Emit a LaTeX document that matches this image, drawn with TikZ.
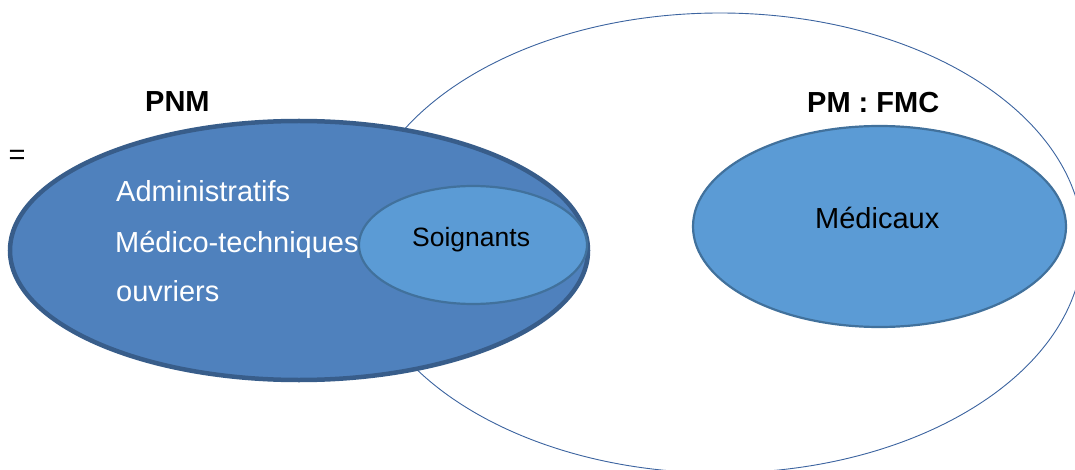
\documentclass[tikz,border=0pt]{standalone}
\usepackage{fontspec}
\setmainfont{Liberation Sans}
\usetikzlibrary{shapes.geometric}

\definecolor{pnmfill}{RGB}{79,129,189}
\definecolor{pnmline}{RGB}{56,93,138}
\definecolor{subfill}{RGB}{91,155,213}
\definecolor{subline}{RGB}{65,113,156}
\definecolor{outerline}{RGB}{60,100,160}

\begin{document}
\begin{tikzpicture}[x=1pt,y=-1pt,
  setshape/.style={ellipse,inner sep=0pt,outer sep=0pt},
  outerset/.style={setshape,draw=outerline,line width=0.9pt,fill=white},
  mainset/.style={setshape,draw=pnmline,line width=4.5pt,fill=pnmfill},
  subset/.style={setshape,draw=subline,line width=2.2pt,fill=subfill},
  label/.style={inner sep=0pt,anchor=base west,font=\fontsize{29}{35}\selectfont},
  whitelabel/.style={label,text=white},
  title/.style={label,font=\fontsize{29}{35}\selectfont\bfseries}]

\useasboundingbox (0,0) rectangle (1075,470);
\clip (0,0) rectangle (1075,470);

% outer set containing the medical staff
\node[outerset,minimum width=726pt,minimum height=460pt] (pm) at (720,243) {};

% non-medical staff
\node[mainset,minimum width=578pt,minimum height=259pt] (pnm) at (299,250.5) {};
\node[whitelabel] (admin) at (116,202) {Administratifs};
\node[whitelabel] (medtech) at (115,252) {Médico-techniques};
\node[whitelabel] (ouvr) at (116,301) {ouvriers};

% nursing staff, inside the non-medical set
\node[subset,minimum width=228pt,minimum height=118pt] (soin) at (473,245) {};
\node[label,font=\fontsize{26.5}{32}\selectfont] (soinlab) at (412,247) {Soignants};

% medical staff
\node[subset,minimum width=373pt,minimum height=201pt] (med) at (879.5,226.5) {};
\node[label] (medlab) at (815,229) {Médicaux};

% headings
\node[title] (pnmtitle) at (145,112) {PNM};
\node[title] (pmtitle) at (807,113) {PM : FMC};
\node[label] (eq) at (8.5,165) {=};
\end{tikzpicture}
\end{document}
